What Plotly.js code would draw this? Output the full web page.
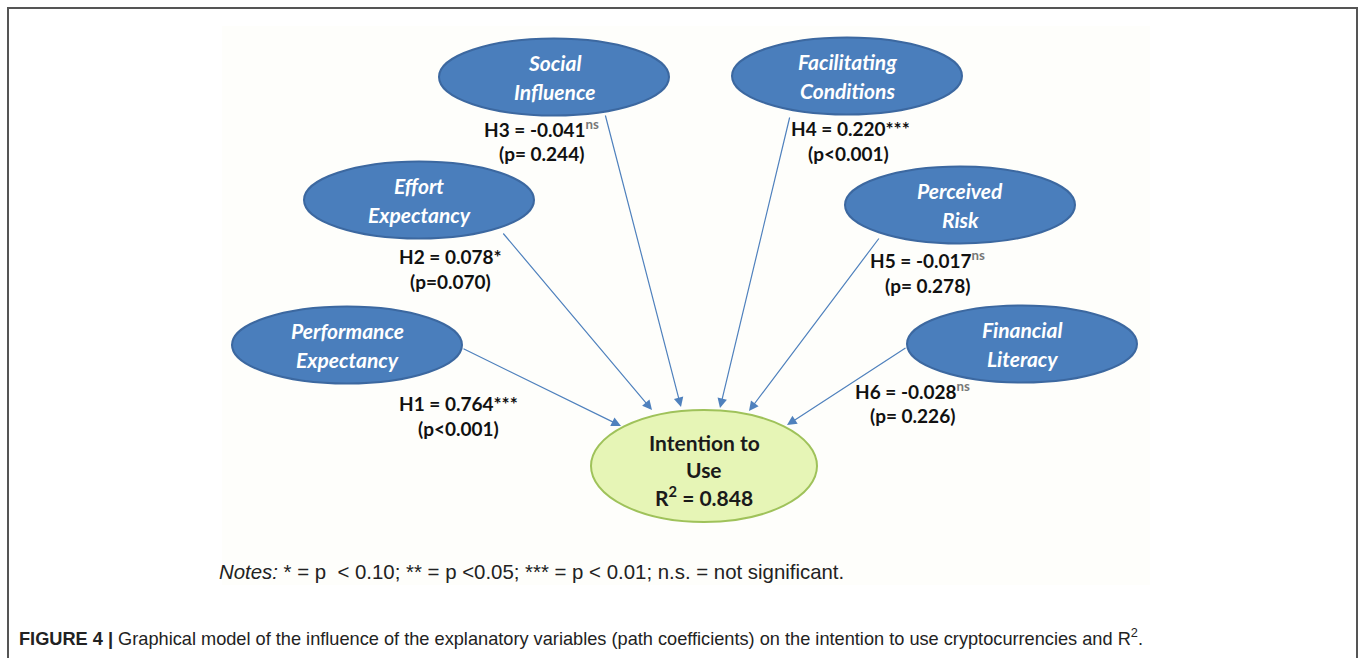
<!DOCTYPE html>
<html>
<head>
<meta charset="utf-8">
<script src="https://cdn.plot.ly/plotly-3.0.1.min.js"></script>
<style>
  html, body { margin: 0; padding: 0; background: #ffffff; }
  #chart { width: 1358px; height: 658px; }
</style>
</head>
<body>
<div id="chart"></div>
<script>
// ---------- DATA ----------
const sourceNames = [['Performance', 'Expectancy'], ['Effort', 'Expectancy'], ['Social', 'Influence'],
                     ['Facilitating', 'Conditions'], ['Perceived', 'Risk'], ['Financial', 'Literacy']];
const hypotheses = ['H1', 'H2', 'H3', 'H4', 'H5', 'H6'];
const pathCoefficients = [0.764, 0.078, -0.041, 0.220, -0.017, -0.028];
const significance = ['***', '*', 'ns', '***', 'ns', 'ns'];
const pValueLabels = ['(p<0.001)', '(p=0.070)', '(p= 0.244)', '(p<0.001)', '(p= 0.278)', '(p= 0.226)'];
const targetName = ['Intention to', 'Use'];
const rSquared = 0.848;
const notesText = '<i>Notes:</i> * = p  < 0.10; ** = p <0.05; *** = p < 0.01; n.s. = not significant.';
const captionBold = 'FIGURE 4 |';
const captionText = ' Graphical model of the influence of the explanatory variables (path coefficients) on the intention to use cryptocurrencies and R<sup>2</sup>.';

// ---------- LAYOUT (positions in pixel space) ----------
const nodeCenters = [[347, 345], [419, 200], [554, 77], [847, 76], [960, 205], [1022, 344]];
const nodeRx = 115, nodeRy = 38.5, nodeLineGap = 29;
const targetCenter = [704, 466], targetRx = 113, targetRy = 56;
const labelPos = [[458, 403], [450, 256], [541, 128], [850, 128], [927, 259], [912, 390]];
const pLabelPos = [[458, 428], [450, 281], [541, 153], [848, 153], [927, 285], [912, 415]];
const arrowStart = [[462, 348], [502, 232], [605, 114], [790, 116], [880, 237], [907, 347]];
const arrowEnd = [[621, 426], [652, 410], [681, 407], [720, 408], [749, 411], [787, 425]];

const blueFill = '#4a7ebc';
const blueLine = '#3c68a0';
const arrowColor = '#4f81bd';
const nodeFont = {family: 'Lato, "Open Sans", sans-serif', size: 21, color: '#ffffff'};
const labelFont = {family: 'Lato, "Open Sans", sans-serif', size: 19, color: '#111111'};
const targetFont = {family: 'Lato, "Open Sans", sans-serif', size: 21, color: '#1a1a1a'};

const shapes = [];
const annotations = [];

// outer border
shapes.push({type: 'rect', xref: 'x', yref: 'y', x0: 8, x1: 1357, y0: 8, y1: 700,
  line: {color: '#555555', width: 2}, fillcolor: 'rgba(0,0,0,0)', layer: 'below'});
// faint picture area
shapes.push({type: 'rect', xref: 'x', yref: 'y', x0: 222, x1: 1150, y0: 26, y1: 585,
  line: {width: 0}, fillcolor: '#fefefb', layer: 'below'});

// connecting arrows
for (let i = 0; i < sourceNames.length; i++) {
  annotations.push({
    x: arrowEnd[i][0], y: arrowEnd[i][1], ax: arrowStart[i][0], ay: arrowStart[i][1],
    xref: 'x', yref: 'y', axref: 'x', ayref: 'y', text: '', showarrow: true,
    arrowhead: 2, arrowsize: 1.6, arrowwidth: 1.2, arrowcolor: arrowColor, standoff: 0
  });
}

// source nodes
for (let i = 0; i < sourceNames.length; i++) {
  const [cx, cy] = nodeCenters[i];
  shapes.push({type: 'circle', xref: 'x', yref: 'y', x0: cx - nodeRx, x1: cx + nodeRx,
    y0: cy - nodeRy, y1: cy + nodeRy, fillcolor: blueFill, line: {color: blueLine, width: 2}});
  sourceNames[i].forEach((line, k) => {
    annotations.push({x: cx, y: cy + (k - 0.5) * nodeLineGap, xref: 'x', yref: 'y', showarrow: false,
      text: '<b><i>' + line + '</i></b>', font: nodeFont, align: 'center'});
  });
  const coef = pathCoefficients[i].toFixed(3);
  const sig = significance[i] === 'ns'
    ? '<sup><span style="color:#777777">ns</span></sup>' : significance[i];
  annotations.push({x: labelPos[i][0], y: labelPos[i][1], xref: 'x', yref: 'y', showarrow: false,
    text: '<b>' + hypotheses[i] + ' = ' + coef + sig + '</b>', font: labelFont});
  annotations.push({x: pLabelPos[i][0], y: pLabelPos[i][1], xref: 'x', yref: 'y', showarrow: false,
    text: '<b>' + pValueLabels[i] + '</b>', font: labelFont});
}

// target node
shapes.push({type: 'circle', xref: 'x', yref: 'y',
  x0: targetCenter[0] - targetRx, x1: targetCenter[0] + targetRx,
  y0: targetCenter[1] - targetRy, y1: targetCenter[1] + targetRy,
  fillcolor: '#e6f5b6', line: {color: '#9fc25a', width: 2}});
const targetLines = [targetName[0], targetName[1], 'R<sup>2</sup> = ' + rSquared.toFixed(3)];
targetLines.forEach((line, k) => {
  annotations.push({x: targetCenter[0], y: targetCenter[1] - 24 + k * 27, xref: 'x', yref: 'y',
    showarrow: false, text: '<b>' + line + '</b>', font: targetFont, align: 'center'});
});

// notes
annotations.push({x: 217, y: 572, xref: 'x', yref: 'y', xanchor: 'left', showarrow: false,
  text: notesText, font: {family: '"Liberation Sans", Arial, sans-serif', size: 20.4, color: '#222222'}});
// caption
annotations.push({x: 17, y: 637, xref: 'x', yref: 'y', xanchor: 'left', showarrow: false,
  text: '<b>' + captionBold + '</b>' + captionText,
  font: {family: '"Liberation Sans", Arial, sans-serif', size: 18.2, color: '#222222'}});

const layout = {
  width: 1358, height: 658,
  margin: {l: 0, r: 0, t: 0, b: 0},
  paper_bgcolor: '#ffffff', plot_bgcolor: '#ffffff',
  xaxis: {range: [0, 1358], visible: false, fixedrange: true},
  yaxis: {range: [658, 0], visible: false, fixedrange: true},
  shapes: shapes, annotations: annotations, showlegend: false
};

Plotly.newPlot('chart', [{x: [], y: [], type: 'scatter', mode: 'markers', hoverinfo: 'skip'}], layout,
  {staticPlot: true, displayModeBar: false});
</script>
</body>
</html>
